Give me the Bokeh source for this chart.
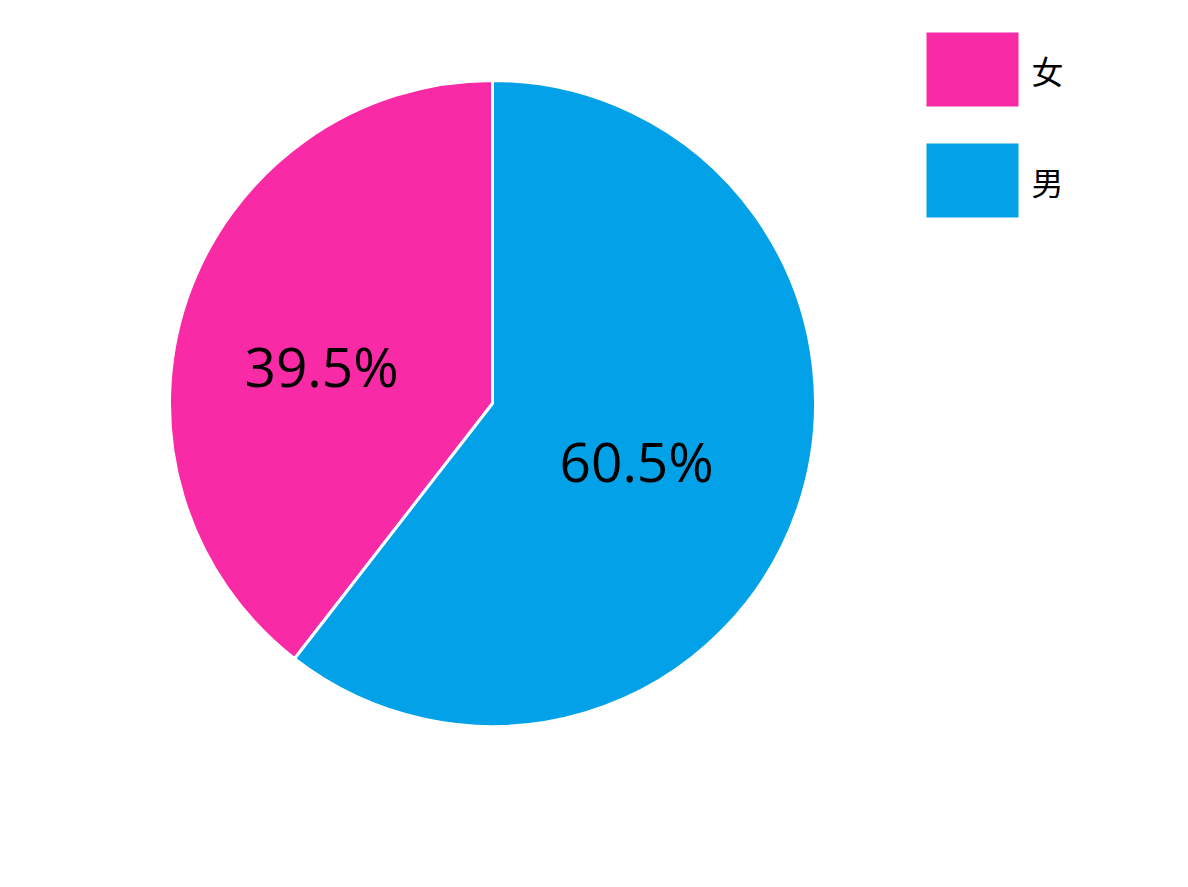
import math
from bokeh.plotting import figure
from bokeh.models import Range1d, ColumnDataSource
from bokeh.core.properties import value
from bokeh.embed import file_html
from bokeh.resources import INLINE

# data
categories = ["女", "男"]
percents = [39.5, 60.5]
colors = ["#F92AA5", "#03A1E8"]

W, H = 1172, 871
p = figure(width=W, height=H, output_backend="svg", toolbar_location=None,
           x_range=Range1d(0, W), y_range=Range1d(0, H), min_border=0)
p.axis.visible = False
p.grid.visible = False
p.outline_line_color = None

def px(X):
    return X

def py(Y):
    return H - Y

cx, cy, R = px(492), py(403), 323

# pink goes counter-clockwise from top, blue clockwise from top
total = sum(percents)
start_deg = 90.0
f_ang = percents[0] / total * 360.0
starts = [start_deg, start_deg + f_ang - 360.0]
ends = [start_deg + f_ang, start_deg]
src = ColumnDataSource(dict(start=[math.radians(s) for s in starts],
                            end=[math.radians(e) for e in ends],
                            color=colors))
p.wedge(x=cx, y=cy, radius=R, start_angle="start", end_angle="end",
        fill_color="color", line_color="white", line_width=3, source=src)

# percentage labels
lab_x, lab_y, lab_t = [], [], []
rfac = [0.542, 0.48]
dang = [6.4, -2.7]
for i in range(2):
    mid = math.radians((starts[i] + ends[i]) / 2 + dang[i])
    lab_x.append(cx + rfac[i] * R * math.cos(mid))
    lab_y.append(cy + rfac[i] * R * math.sin(mid))
    lab_t.append(f"{percents[i]:.1f}%")
p.text(x=lab_x, y=lab_y, text=lab_t, text_font=value("Open Sans"),
       text_font_size="55px", text_align="center", text_baseline="middle",
       text_color="black")

# legend
leg_x = px(972)
leg_y = [py(69), py(180)]
p.rect(x=[leg_x] * 2, y=leg_y, width=92, height=74, fill_color=colors,
       line_color=None)
p.text(x=[px(1031)] * 2, y=leg_y, text=categories,
       text_font=value("Noto Sans CJK SC"), text_font_size="32px",
       text_align="left", text_baseline="middle", text_color="black")

open("out.html", "w").write(file_html(p, INLINE))
